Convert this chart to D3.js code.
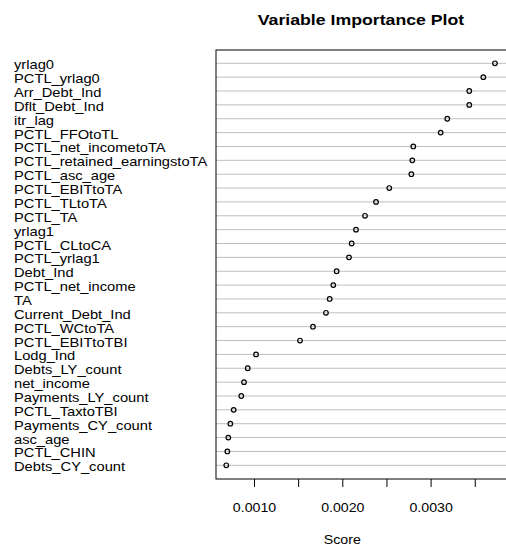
<!DOCTYPE html>
<html>
<head>
<meta charset="utf-8">
<script src="https://cdn.jsdelivr.net/npm/d3@7"></script>
<style>
  body { margin: 0; background: #fff; }
  text { font-family: "Liberation Sans", Arial, Helvetica, sans-serif; fill: #000; }
</style>
</head>
<body>
<div id="chart"></div>
<script>
// variable names, top to bottom
var variables = [
    "yrlag0", "PCTL_yrlag0", "Arr_Debt_Ind", "Dflt_Debt_Ind", "itr_lag",
    "PCTL_FFOtoTL", "PCTL_net_incometoTA", "PCTL_retained_earningstoTA", "PCTL_asc_age", "PCTL_EBITtoTA",
    "PCTL_TLtoTA", "PCTL_TA", "yrlag1", "PCTL_CLtoCA", "PCTL_yrlag1",
    "Debt_Ind", "PCTL_net_income", "TA", "Current_Debt_Ind", "PCTL_WCtoTA",
    "PCTL_EBITtoTBI", "Lodg_Ind", "Debts_LY_count", "net_income", "Payments_LY_count",
    "PCTL_TaxtoTBI", "Payments_CY_count", "asc_age", "PCTL_CHIN", "Debts_CY_count"
];
// importance score, same order
var scores = [
    0.003729, 0.003597, 0.003438, 0.003438, 0.003189,
    0.003114, 0.002804, 0.002793, 0.002782, 0.002532,
    0.002382, 0.002257, 0.002155, 0.002106, 0.002076,
    0.001936, 0.001898, 0.001857, 0.001815, 0.001668,
    0.001521, 0.001023, 0.000929, 0.000887, 0.000856,
    0.000770, 0.000732, 0.000709, 0.000698, 0.000686
];
var tickValues = [0.0010, 0.0015, 0.0020, 0.0025, 0.0030, 0.0035];
var tickLabels = ["0.0010", "", "0.0020", "", "0.0030", ""];

var W = 506, H = 546;
var box = {left: 216, top: 50, right: 507, bottom: 479};

var svg = d3.select('#chart').append('svg')
    .attr('width', W).attr('height', H);

// the original text is a bit wider than Liberation Sans, stretch it
function stretch(sel, k){
    sel.each(function(){
        var len = this.getComputedTextLength();
        if(len > 0){
            d3.select(this).attr('textLength', len * k).attr('lengthAdjust', 'spacingAndGlyphs');
        }
    });
}

var x = d3.scaleLinear()
    .domain([0.001, 0.0035])
    .range([254, 254 + 2.5 * 88.3]);

var y = d3.scalePoint()
    .domain(variables)
    .range([63.3, 465.3]);

// row guide lines
svg.append('g').selectAll('line')
    .data(variables)
    .enter().append('line')
    .attr('x1', box.left).attr('x2', box.right)
    .attr('y1', function(d){ return y(d); })
    .attr('y2', function(d){ return y(d); })
    .attr('stroke', '#bebebe').attr('stroke-width', 1);

// points
svg.append('g').selectAll('circle')
    .data(scores)
    .enter().append('circle')
    .attr('cx', function(d){ return x(d); })
    .attr('cy', function(d, i){ return y(variables[i]); })
    .attr('r', 2.3)
    .attr('fill', 'none')
    .attr('stroke', '#000').attr('stroke-width', 1.2);

// frame (right side runs off the picture)
svg.append('rect')
    .attr('x', box.left).attr('y', box.top)
    .attr('width', box.right - box.left).attr('height', box.bottom - box.top)
    .attr('fill', 'none').attr('stroke', '#000').attr('stroke-width', 1);

// x axis
var axis = d3.axisBottom(x)
    .tickValues(tickValues)
    .tickSize(8)
    .tickPadding(16)
    .tickFormat(function(d, i){ return tickLabels[i]; });

var gx = svg.append('g')
    .attr('transform', 'translate(0,' + box.bottom + ')')
    .call(axis);
gx.select('.domain').remove();
gx.selectAll('line').attr('stroke', '#000');
gx.selectAll('text')
    .style('font-size', '13px')
    .style('font-family', '"Liberation Sans", Arial, sans-serif')
    .attr('fill', '#000')
    .call(stretch, 1.09);

// labels
svg.append('g').selectAll('text')
    .data(variables)
    .enter().append('text')
    .attr('x', 14)
    .attr('y', function(d){ return y(d); })
    .attr('dy', 6)
    .style('font-size', '13px')
    .text(function(d){ return d; })
    .call(stretch, 1.13);

// title
svg.append('text')
    .attr('x', 361).attr('y', 24.5)
    .attr('text-anchor', 'middle')
    .style('font-size', '14.5px').style('font-weight', 'bold')
    .text('Variable Importance Plot')
    .call(stretch, 1.22);

svg.append('text')
    .attr('x', 342.3).attr('y', 543.5)
    .attr('text-anchor', 'middle')
    .style('font-size', '13px')
    .text('Score')
    .call(stretch, 1.09);
</script>
</body>
</html>
